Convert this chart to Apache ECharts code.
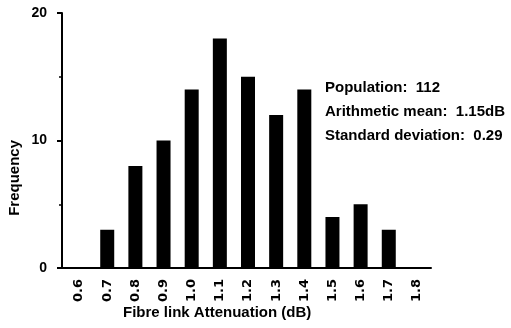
<!DOCTYPE html>
<html>
<head>
<meta charset="utf-8">
<script src="https://cdn.jsdelivr.net/npm/echarts@6/dist/echarts.min.js"></script>
<style>
  html, body { margin: 0; padding: 0; background: #fff; }
  #chart { width: 511px; height: 328px; }
</style>
</head>
<body>
<div id="chart"></div>
<script>
const attenuation = ['0.6', '0.7', '0.8', '0.9', '1.0', '1.1', '1.2', '1.3', '1.4', '1.5', '1.6', '1.7', '1.8']
const frequency = [0, 3, 8, 10, 14, 18, 15, 12, 14, 4, 5, 3, 0]
const statsLines = ['Population:  112', 'Arithmetic mean:  1.15dB', 'Standard deviation:  0.29']

const FONT = '"Liberation Sans", Arial, sans-serif'
const chart = echarts.init(document.getElementById('chart'))

chart.setOption({
  animation: false,
  grid: { left: 65, right: 80, top: 13, bottom: 60 },
  xAxis: {
    type: 'category',
    data: attenuation,
    boundaryGap: true,
    axisLine: { lineStyle: { color: '#000', width: 2 } },
    axisTick: { alignWithLabel: true, length: 5, lineStyle: { color: '#000', width: 2 } },
    axisLabel: { rotate: 90, margin: 11, color: '#000', fontFamily: '"DejaVu Sans", sans-serif', fontWeight: 'bold', fontSize: 13 },
  },
  yAxis: {
    type: 'value',
    min: 0,
    max: 20,
    interval: 10,
    offset: 3,
    axisLine: { show: true, lineStyle: { color: '#000', width: 2 } },
    axisTick: { show: true, length: 5, lineStyle: { color: '#000', width: 2 } },
    minorTick: { show: true, splitNumber: 2, length: 3, lineStyle: { color: '#000', width: 1.5 } },
    splitLine: { show: false },
    axisLabel: { margin: 15, color: '#000', fontFamily: FONT, fontWeight: 'bold', fontSize: 14 },
  },
  graphic: [
    // bottom axis line runs a bit past the y axis
    {
      type: 'line',
      shape: { x1: 57, y1: 268, x2: 66, y2: 268 },
      style: { stroke: '#000', lineWidth: 2 },
    },
    {
      type: 'text',
      left: 7,
      top: 140,
      rotation: Math.PI / 2,
      style: { text: 'Frequency', fill: '#000', font: 'bold 15px ' + FONT },
    },
    {
      type: 'text',
      left: 123,
      top: 305,
      style: { text: 'Fibre link Attenuation (dB)', fill: '#000', font: 'bold 15px ' + FONT },
    },
    ...statsLines.map((t, i) => ({
      type: 'text',
      x: 325,
      y: 87.5 + i * 24,
      style: { text: t, fill: '#000', font: 'bold 15px ' + FONT, verticalAlign: 'middle' },
    })),
  ],
  series: [{
    type: 'bar',
    data: frequency,
    barWidth: 14,
    itemStyle: { color: '#000' },
  }],
})
</script>
</body>
</html>
